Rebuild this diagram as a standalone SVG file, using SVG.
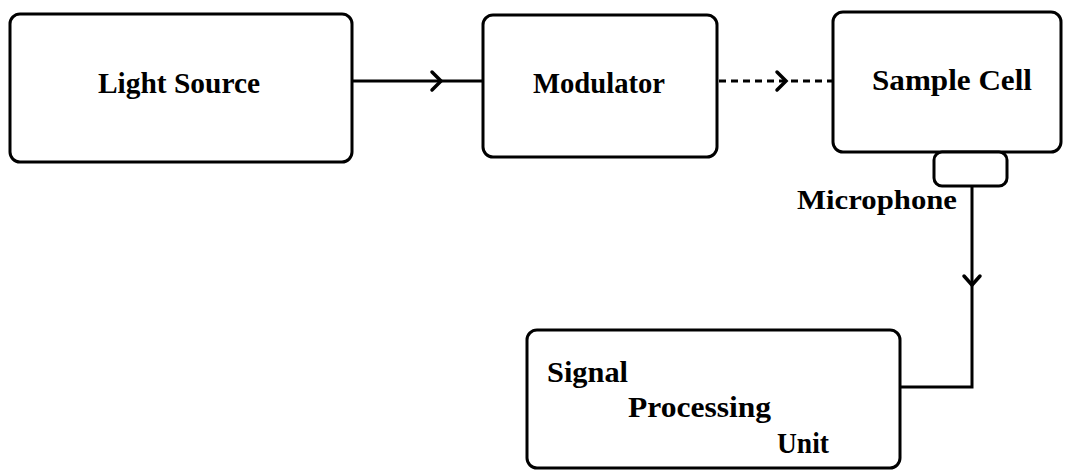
<svg xmlns="http://www.w3.org/2000/svg" width="1065" height="471" viewBox="0 0 1065 471">
<style>
.box{fill:#fff;stroke:#000;stroke-width:3}
.lbl{font-family:"Liberation Serif","Times New Roman",serif;font-weight:bold;font-size:30px;fill:#000}
.wire{fill:none;stroke:#000;stroke-width:3}
.dash{fill:none;stroke:#000;stroke-width:3;stroke-dasharray:7 5}
.head{fill:none;stroke:#000;stroke-width:3.5;stroke-linecap:round;stroke-linejoin:miter}
</style>
<rect width="1065" height="471" fill="#fff"/>
<g id="connectors">
<line class="wire" x1="352" y1="81" x2="483" y2="81"/>
<path class="head" d="M432 72 L441 81 L432 90"/>
<line class="dash" x1="719" y1="81" x2="833" y2="81"/>
<path class="head" d="M777 72 L786 81 L777 90"/>
<path class="wire" d="M972 186 L972 387 L900 387"/>
<path class="head" d="M964 276 L972 285 L980 276"/>
</g>
<g id="light-source">
<rect class="box" x="10" y="14" width="342" height="148" rx="10"/>
<text class="lbl" x="98" y="93" textLength="162" lengthAdjust="spacingAndGlyphs">Light Source</text>
</g>
<g id="modulator">
<rect class="box" x="483" y="15" width="234" height="142" rx="10"/>
<text class="lbl" x="533" y="93" textLength="132" lengthAdjust="spacingAndGlyphs">Modulator</text>
</g>
<g id="sample-cell">
<rect class="box" x="833" y="12" width="228" height="140" rx="10"/>
<text class="lbl" x="872" y="90" textLength="160" lengthAdjust="spacingAndGlyphs">Sample Cell</text>
</g>
<g id="microphone">
<rect class="box" x="934" y="152" width="73" height="34" rx="8"/>
<text class="lbl" x="797" y="209" textLength="160" lengthAdjust="spacingAndGlyphs" style="font-size:27px">Microphone</text>
</g>
<g id="signal-processing-unit">
<rect class="box" x="527" y="330" width="373" height="138" rx="10"/>
<text class="lbl" x="547" y="382" textLength="81" lengthAdjust="spacingAndGlyphs">Signal</text>
<text class="lbl" x="628" y="417" textLength="143" lengthAdjust="spacingAndGlyphs">Processing</text>
<text class="lbl" x="777" y="453" textLength="52" lengthAdjust="spacingAndGlyphs">Unit</text>
</g>
</svg>
